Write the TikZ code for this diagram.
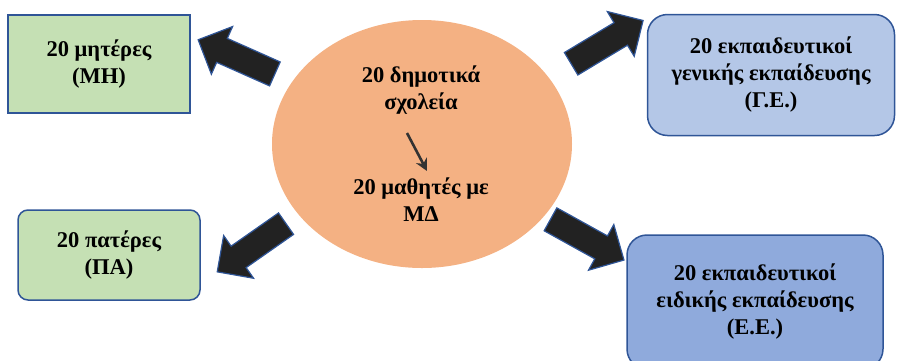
\documentclass[tikz,border=0pt]{standalone}
\usepackage{fontspec}
\setmainfont{Liberation Serif}
\usetikzlibrary{shapes.geometric,shapes.arrows,arrows.meta}
\definecolor{edgeblue}{HTML}{2F5597}
\definecolor{mhgreen}{HTML}{C5E0B4}
\definecolor{schorange}{HTML}{F4B183}
\definecolor{geblue}{HTML}{B4C7E7}
\definecolor{eeblue}{HTML}{8FAADC}
\definecolor{arrowblack}{HTML}{222222}
\begin{document}
\begin{tikzpicture}
  [x=1pt,y=-1pt,every node/.style={font=\bfseries\fontsize{22.5}{27}\selectfont,align=center},
   box/.style={draw=edgeblue,line width=1.5pt},
   bigarrow/.style={single arrow,draw=edgeblue,line width=1.2pt,fill=arrowblack,inner sep=0pt,
     text height=12.5pt,text depth=12.5pt,minimum width=52pt,single arrow head extend=13pt,minimum height=84pt}]
  \useasboundingbox (0,0) rectangle (897,360);
  \node[ellipse,fill=schorange,minimum width=300pt,minimum height=248pt] (sch) at (422,144) {};
  \node (up) at (421,90) {20 δημοτικά\\σχολεία};
  \node (low) at (421,200) {20 μαθητές με\\ΜΔ};
  \node[box,fill=mhgreen,minimum width=182pt,minimum height=98pt] (mh) at (99,64) {20 μητέρες\\(ΜΗ)};
  \node[box,fill=mhgreen,rounded corners=10pt,minimum width=182pt,minimum height=90pt] (pa) at (109,255) {20 πατέρες\\(ΠΑ)};
  \node[box,fill=geblue,rounded corners=20pt,minimum width=247pt,minimum height=121pt] (ge) at (771,75) {20 εκπαιδευτικοί\\γενικής εκπαίδευσης\\(Γ.Ε.)};
  \node[box,fill=eeblue,rounded corners=20pt,minimum width=256pt,minimum height=134pt] (ee) at (755,302) {20 εκπαιδευτικοί\\ειδικής εκπαίδευσης\\(Ε.Ε.)};
  \foreach \n/\x/\y/\a in {nw/242.5/59.5/156,ne/601.5/45.5/31,sw/257/244/215,se/581.5/236.5/-29}
    \node[bigarrow,rotate=\a] (\n) at (\x,\y) {};
  \coordinate (s1) at (407,133);
  \coordinate (s2) at (427,171);
  \draw[line width=2.6pt,draw=black!80,-{Stealth[length=12pt,width=12pt]}] (s1) -- (s2);
\end{tikzpicture}
\end{document}
